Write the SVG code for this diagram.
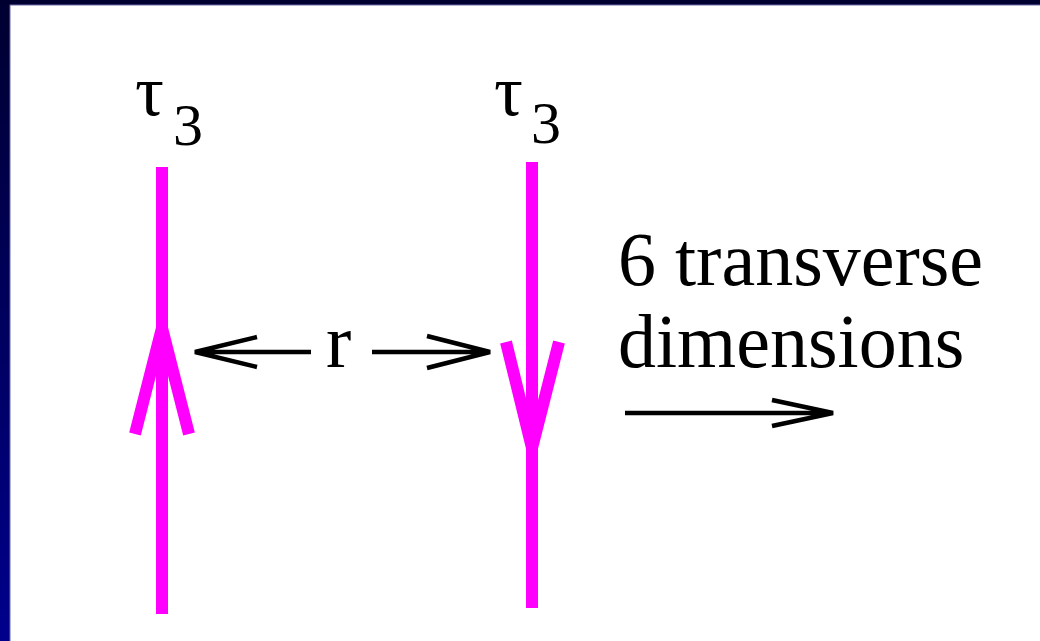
<svg xmlns="http://www.w3.org/2000/svg" width="1040" height="641" viewBox="0 0 1040 641">
<defs>
<linearGradient id="bg" x1="0" y1="0" x2="0" y2="1">
<stop offset="0" stop-color="#000030"/>
<stop offset="1" stop-color="#00008c"/>
</linearGradient>
<style>
.mag{stroke:#ff00ff;stroke-width:12;fill:none;stroke-linecap:butt;stroke-linejoin:miter}
.blk{stroke:#000;stroke-width:4.5;fill:none;stroke-linecap:butt}
.t{font-family:"Liberation Serif","Times New Roman",serif;fill:#000}
</style>
</defs>
<rect x="0" y="0" width="1040" height="641" fill="url(#bg)"/>
<rect x="10" y="5" width="1031" height="637" fill="#ffffff" stroke="#6a6aa8" stroke-width="1"/>
<g id="connectors">
<path class="blk" d="M311,352 H195 M257,337 L195,352 L257,367"/>
<path class="blk" d="M372,352 H490 M427,336 L490,352 L427,368"/>
<path class="blk" d="M625,413 H833 M772,400 L833,413 L772,426"/>
</g>
<g id="line1">
<path class="mag" d="M162,167 V614"/>
<path class="mag" d="M135,434 L162,328 L189,434"/>
<text class="t" x="135" y="115" font-size="72">τ</text>
<text class="t" x="173" y="145" font-size="60">3</text>
</g>
<g id="line2">
<path class="mag" d="M532,162 V608"/>
<path class="mag" d="M506,342 L532,448 L559,342"/>
<text class="t" x="494" y="115" font-size="72">τ</text>
<text class="t" x="531" y="143" font-size="60">3</text>
</g>
<g id="label-r">
<text class="t" x="326" y="367" font-size="76">r</text>
</g>
<g id="label-dims">
<text class="t" x="618" y="285" font-size="76">6 transverse</text>
<text class="t" x="618" y="367" font-size="76">dimensions</text>
</g>
</svg>
